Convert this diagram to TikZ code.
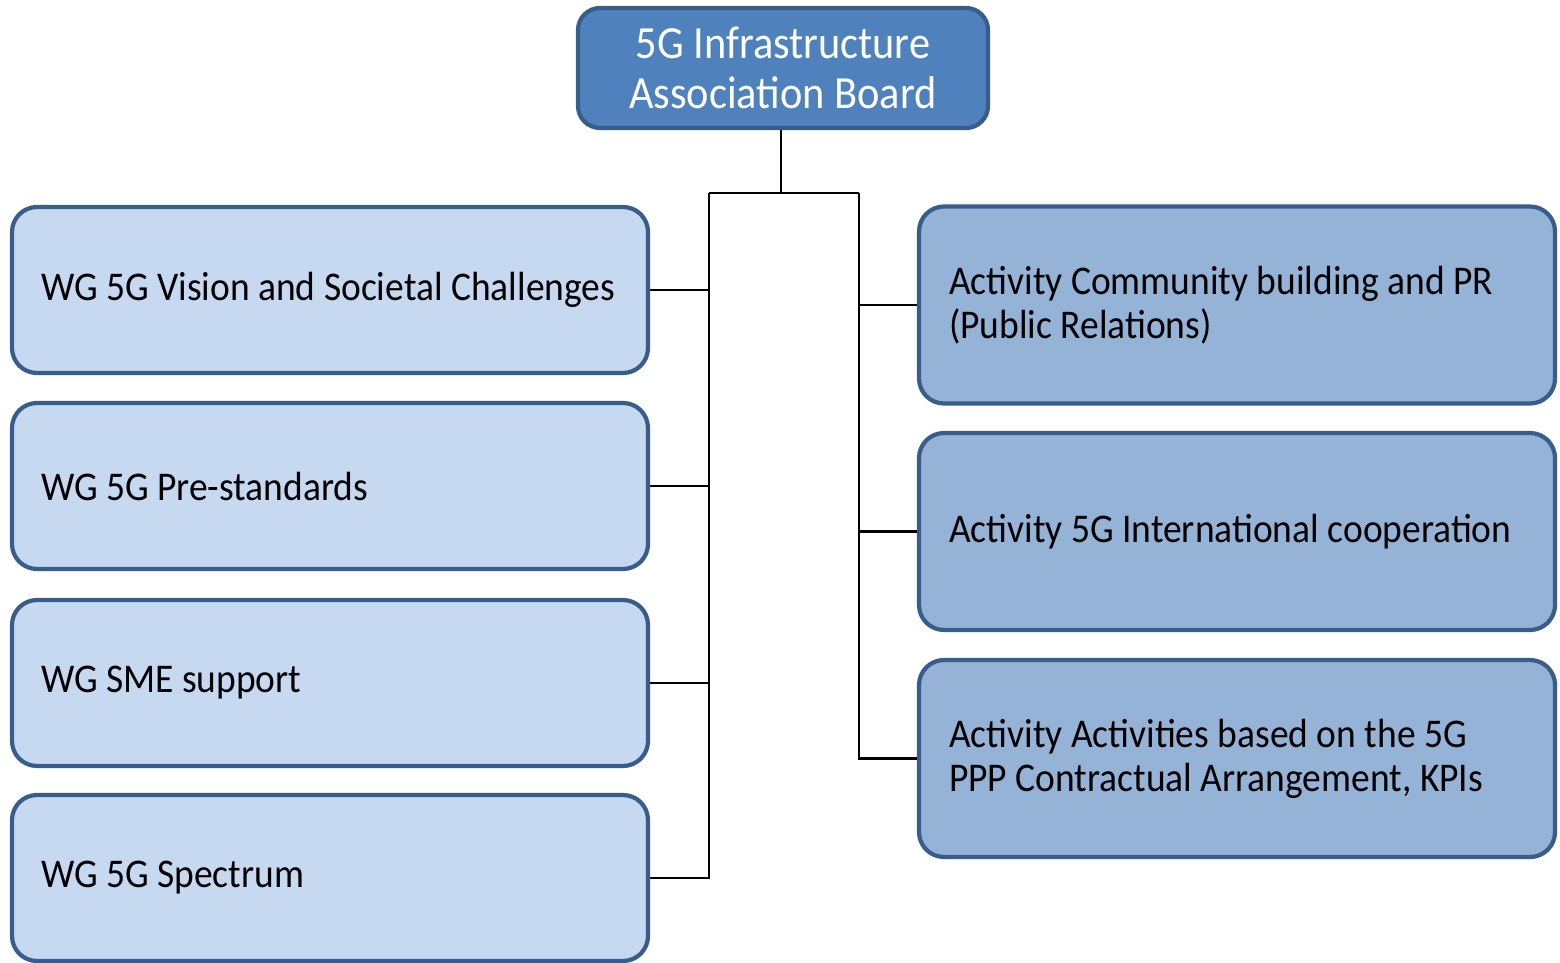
\documentclass[tikz,border=0pt]{standalone}
\usepackage{fontspec}
\setmainfont{Carlito}[FakeStretch=0.92]
\usepackage{xcolor}
\definecolor{blue-board}{RGB}{79,129,189}
\definecolor{blue-edge}{RGB}{56,93,138}
\definecolor{blue-light}{RGB}{198,217,241}
\definecolor{blue-mid}{RGB}{149,179,215}
\usepackage{tikz}
\usetikzlibrary{positioning}

\begin{document}
\begin{tikzpicture}[
    every node/.style={inner sep=0pt},
    boardbox/.style={
        draw=blue-edge, line width=1.2pt, fill=blue-board,
        rounded corners=0.22cm, minimum width=4.1cm, minimum height=1.2cm,
        text=white, align=center,
        font=\fontsize{13.1pt}{14.2pt}\selectfont
    },
    wgbox/.style={
        draw=blue-edge, line width=1.2pt, fill=blue-light,
        rounded corners=0.25cm, minimum width=6.36cm, minimum height=1.66cm,
        inner xsep=0.29cm, text width=5.78cm, align=flush left,
        font=\fontsize{11.6pt}{12.5pt}\selectfont
    },
    actbox/.style={
        draw=blue-edge, line width=1.2pt, fill=blue-mid,
        rounded corners=0.25cm, minimum width=6.36cm, minimum height=1.97cm,
        inner xsep=0.3cm, text width=5.76cm, align=flush left,
        font=\fontsize{11.6pt}{12.5pt}\selectfont
    },
    link/.style={black, line width=0.6pt}
]

\useasboundingbox (0,0) rectangle (15.6,-9.62);

% Board
\node[boardbox] (board) at (7.83,-0.68) {5G Infrastructure\\Association Board};

% Working groups
\node[wgbox] (wg1) at (3.30,-2.90) {WG 5G Vision and Societal Challenges};
\node[wgbox] (wg2) at (3.30,-4.86) {WG 5G Pre-standards};
\node[wgbox] (wg3) at (3.30,-6.83) {WG SME support};
\node[wgbox] (wg4) at (3.30,-8.78) {WG 5G Spectrum};

% Activities
\node[actbox] (act1) at (12.37,-3.05) {Activity Community building and PR\\(Public Relations)};
\node[actbox] (act2) at (12.37,-5.315) {Activity 5G International cooperation};
\node[actbox] (act3) at (12.37,-7.585) {Activity Activities based on the 5G\\PPP Contractual Arrangement, KPIs};

% Connectors
\coordinate (split) at (7.81,-1.93);
\coordinate (lbus) at (7.09,-1.93);
\coordinate (rbus) at (8.59,-1.93);

\draw[link] (board.south -| split) -- (split);
\draw[link] (lbus) -- (rbus);
\draw[link] (lbus) |- (wg4.east);
\draw[link] (rbus) |- (act3.west);
\foreach \n in {wg1,wg2,wg3} {
    \draw[link] (\n.east) -- (\n.east -| lbus);
}
\foreach \n in {act1,act2} {
    \draw[link] (\n.west) -- (\n.west -| rbus);
}

\end{tikzpicture}
\end{document}
